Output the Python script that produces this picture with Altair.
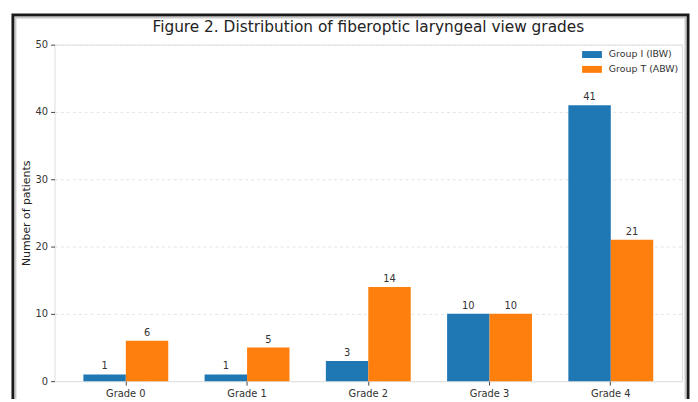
import altair as alt
import pandas as pd

grades = ["Grade 0", "Grade 1", "Grade 2", "Grade 3", "Grade 4"]
group_names = ["Group I (IBW)", "Group T (ABW)"]
group_i = [1, 1, 3, 10, 41]
group_t = [6, 5, 14, 10, 21]
colors = ["#1f77b4", "#ff7f0e"]
y_ticks = [0, 10, 20, 30, 40, 50]
title_text = "Figure 2. Distribution of fiberoptic laryngeal view grades"
y_title = "Number of patients"

rows = []
for g, a, b in zip(grades, group_i, group_t):
    rows.append({"grade": g, "group": group_names[0], "value": a})
    rows.append({"grade": g, "group": group_names[1], "value": b})
df = pd.DataFrame(rows)

FONT = "DejaVu Sans"

x = alt.X(
    "grade:N", sort=grades,
    scale=alt.Scale(paddingInner=0.3, paddingOuter=0.238),
    axis=alt.Axis(title=None, labelAngle=0, domain=False, ticks=True, tickSize=4,
                  tickColor="#444", labelFontSize=10, labelColor="#333",
                  labelPadding=3, grid=False, labelFont=FONT),
)
xo = alt.XOffset("group:N", sort=group_names,
                 scale=alt.Scale(paddingInner=0, paddingOuter=0))
y = alt.Y(
    "value:Q",
    scale=alt.Scale(domain=[0, 50], nice=False, zero=True),
    axis=alt.Axis(values=y_ticks, title=y_title, grid=True, gridDash=[3, 3],
                  gridColor="#e4e4e4", domain=False, tickSize=4, tickColor="#444",
                  labelFontSize=10, labelColor="#333", labelPadding=3,
                  titleFontSize=11, titleFontWeight="normal", titleColor="#222",
                  titlePadding=4, labelFont=FONT, titleFont=FONT),
)
color = alt.Color(
    "group:N", sort=group_names,
    scale=alt.Scale(domain=group_names, range=colors),
    legend=alt.Legend(title=None, orient="none", legendX=538, legendY=5,
                      symbolType="M-2,-0.7L2,-0.7L2,0.7L-2,0.7Z", symbolSize=100,
                      symbolStrokeWidth=0, labelFontSize=9.5, labelColor="#333",
                      labelOffset=12, rowPadding=5, padding=0, labelFont=FONT),
)

base = alt.Chart(df)
bars = base.mark_bar().encode(x=x, xOffset=xo, y=y, color=color)
labels = base.mark_text(baseline="bottom", dy=-3, fontSize=10, color="#333", font=FONT).encode(
    x=x, xOffset=xo, y=y, text="value:Q")

frame_data = alt.Data(values=[{"f": 1}])
frame_outer = alt.Chart(frame_data).mark_rect(
    fill=None, stroke="#1a1a1a", strokeWidth=3).encode(
    x=alt.value(-42), x2=alt.value(640), y=alt.value(-30), y2=alt.value(370))
frame_inner = alt.Chart(frame_data).mark_rect(
    fill=None, stroke="#b0b0b0", strokeWidth=2, opacity=0.7).encode(
    x=alt.value(-39.5), x2=alt.value(637.5), y=alt.value(-27.5), y2=alt.value(370))

chart = alt.layer(frame_outer, frame_inner, bars, labels).properties(
    width=634, height=340,
    title=alt.TitleParams(title_text, fontSize=15.5, font=FONT, fontWeight="normal",
                          color="#222", anchor="middle", offset=-22),
    autosize=alt.AutoSizeParams(type="none"),
    padding={"left": 47, "top": 35, "right": 8, "bottom": 16},
).configure_view(stroke="#555", strokeWidth=1).configure(background="white")

chart.save("out.html", embed_options={"renderer": "svg", "actions": False})
